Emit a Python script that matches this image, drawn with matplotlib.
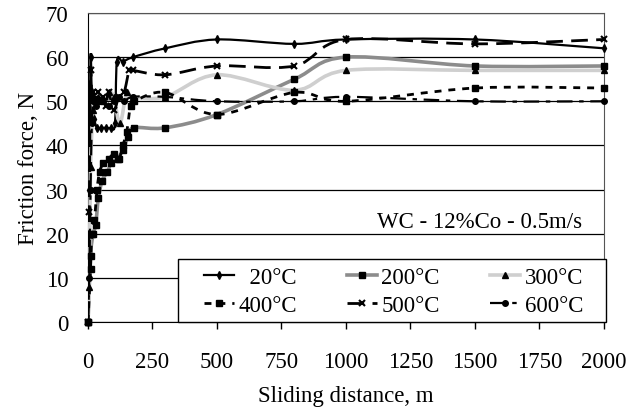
import numpy as np
import matplotlib
matplotlib.use('Agg')
import matplotlib.pyplot as plt
from matplotlib.path import Path
from matplotlib.patches import PathPatch, Rectangle
from matplotlib.lines import Line2D

plt.rcParams['font.family'] = ['Liberation Serif', 'DejaVu Serif']

# Friction force vs sliding distance, WC-12%Co at 0.5 m/s
x_20 = [0, 5, 10, 15, 25, 35, 50, 70, 90, 105, 112, 135, 175, 300, 500, 800, 1000, 1500, 2000]
f_20 = [0, 30, 60, 52, 46, 44, 44, 44, 44, 45, 59, 59, 60, 62, 64, 63, 64, 64, 62]

x_200 = [0, 10, 20, 30, 40, 55, 75, 90, 115, 135, 155, 178, 300, 500, 800, 1000, 1500, 2000]
f_200 = [0, 15, 20, 22, 28, 32, 34, 36, 37, 39, 42, 44, 44, 47, 55, 60, 58, 58]

x_300 = [0, 5, 10, 20, 30, 40, 60, 80, 100, 124, 150, 175, 300, 500, 800, 1000, 1500, 2000]
f_300 = [0, 8, 35, 48, 50, 51, 50, 52, 51, 45, 52, 51, 51, 56, 52.5, 57, 57, 57]

x_400 = [0, 10, 15, 25, 35, 45, 60, 80, 100, 120, 135, 150, 165, 180, 300, 500, 800, 1000, 1500, 2000]
f_400 = [0, 12, 20, 23, 30, 34, 36, 37, 38, 37, 40, 43, 49, 50, 52, 47, 52, 50, 53, 53]

x_500 = [0, 5, 10, 15, 20, 30, 40, 50, 60, 70, 80, 100, 120, 140, 160, 175, 300, 500, 800, 1000, 1500, 2000]
f_500 = [0, 25, 57, 50, 52, 50, 52, 50, 51, 49, 52, 48, 51, 52, 57, 57, 56, 58, 58, 64, 63, 64]

x_600 = [0, 5, 10, 15, 20, 30, 45, 60, 80, 100, 120, 140, 175, 300, 500, 800, 1000, 1500, 2000]
f_600 = [0, 10, 30, 45, 50, 49, 50, 50, 49, 50, 51, 50, 51, 51, 50, 50, 51, 50, 50]

labels = ['  20°C', '200°C', '300°C', '400°C', '500°C', '600°C']


def smooth_path(xs, ys):
    # Excel-like smoothed line: Catmull-Rom turned into cubic Bezier segments
    pts = np.column_stack([xs, ys]).astype(float)
    n = len(pts)
    verts = [pts[0]]
    codes = [Path.MOVETO]
    for i in range(n - 1):
        p0 = pts[max(i - 1, 0)]
        p1 = pts[i]
        p2 = pts[i + 1]
        p3 = pts[min(i + 2, n - 1)]
        verts += [p1 + (p2 - p0) / 6, p2 - (p3 - p1) / 6, p2]
        codes += [Path.CURVE4] * 3
    return Path(verts, codes)


series = [
    (x_20, f_20, dict(color='black', lw=1.6, ls='-'), dict(marker='d', ms=4)),
    (x_200, f_200, dict(color='#8c8c8c', lw=2.6, ls='-'), dict(marker='s', ms=5)),
    (x_300, f_300, dict(color='#cfcfcf', lw=2.6, ls='-'), dict(marker='^', ms=5)),
    (x_400, f_400, dict(color='black', lw=2.0, ls=(0, (2.5, 2.5))), dict(marker='s', ms=5)),
    (x_500, f_500, dict(color='black', lw=2.0, ls=(0, (6, 3))), dict(marker='x', ms=4, mew=1.5)),
    (x_600, f_600, dict(color='black', lw=1.6, ls=(0, (7, 3, 2, 3))), dict(marker='o', ms=4)),
]

fs = 16.5
fig = plt.figure(figsize=(6.44, 4.14), dpi=100)
ax = fig.add_axes([0.1366, 0.2198, 0.8012, 0.7464])

handles = []
for (xs, ys, lstyle, mstyle), lab in zip(series, labels):
    patch = PathPatch(smooth_path(xs, ys), fill=False, edgecolor=lstyle['color'],
                      lw=lstyle['lw'], linestyle=lstyle['ls'], zorder=3)
    ax.add_patch(patch)
    ax.plot(xs, ys, ls='none', color='black', zorder=4, clip_on=False, **mstyle)
    handles.append(Line2D([], [], color=lstyle['color'], lw=lstyle['lw'],
                          ls=lstyle['ls'], mfc='black', mec='black', **mstyle))

ax.set_xlim(0, 2000)
ax.set_ylim(0, 70)
ax.set_xticks(np.arange(0, 2001, 250))
ax.set_yticks(np.arange(0, 71, 10))
ax.yaxis.grid(True, color='black', lw=0.9)
ax.set_axisbelow(True)
ax.tick_params(axis='x', direction='out', length=5, width=1, pad=16, labelsize=fs)
ax.tick_params(axis='y', length=0, pad=14, labelsize=fs)
for s in ['left', 'bottom']:
    ax.spines[s].set_color('black')
for s in ['top', 'right']:
    ax.spines[s].set_color('#555555')

ax.set_xlabel('Sliding distance, m', fontsize=fs, labelpad=9)
ax.set_ylabel('Friction force, N', fontsize=fs, labelpad=5)

ax.text(0.957, 0.325, 'WC - 12%Co - 0.5m/s', transform=ax.transAxes,
        ha='right', va='center', fontsize=fs)

# legend box drawn separately so its padding matches the original
box = Rectangle((0.174, 0.0), 0.830, 0.204, transform=ax.transAxes, fill=True,
                facecolor='white', edgecolor='black', lw=1.0, clip_on=False, zorder=5)
ax.add_patch(box)

order = [0, 3, 1, 4, 2, 5]
leg = ax.legend([handles[i] for i in order], [labels[i] for i in order], ncol=3,
                loc='center', bbox_to_anchor=(0.592, 0.1), borderaxespad=0,
                fontsize=fs, frameon=False, handlelength=1.3, handletextpad=0.2,
                columnspacing=2.2, labelspacing=0.3, borderpad=0)
leg.set_zorder(6)

fig.savefig('out.png', dpi=100)
